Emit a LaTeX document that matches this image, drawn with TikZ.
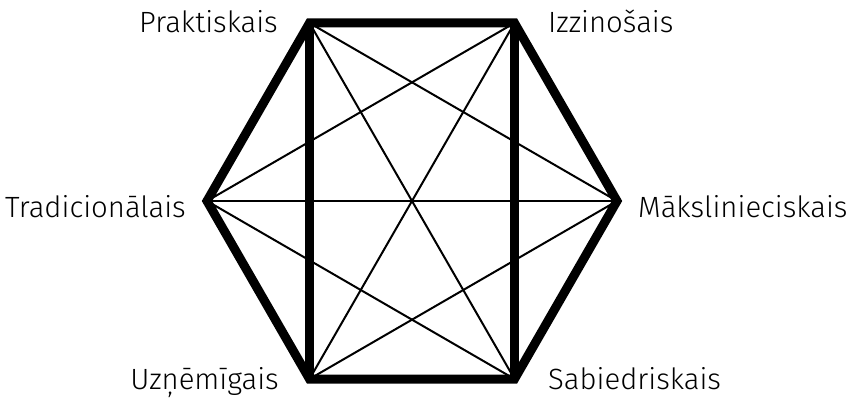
\documentclass[tikz,border=0pt]{standalone}
\usepackage{fontspec}
\setmainfont{Fira Sans Light}
\begin{document}
\begin{tikzpicture}[x=1pt,y=-1pt,
  thickedge/.style={line width=9pt,line join=miter,line cap=butt},
  thinedge/.style={line width=2pt},
  lbl/.style={font=\fontsize{29.3}{31}\selectfont,inner sep=0pt}]
\useasboundingbox (0,0) rectangle (846,398);
\coordinate (TL) at (309.5,23);
\coordinate (TR) at (514.5,23);
\coordinate (R) at (617,201);
\coordinate (BR) at (514.5,379);
\coordinate (BL) at (309.5,379);
\coordinate (L) at (207,201);
% thin connectors
\foreach \a/\b in {TL/R,TL/BR,TR/L,TR/BL,L/R,BL/R,BR/L,TL/TR}
  \draw[thinedge] (\a) -- (\b);
% thick hexagon and verticals
\draw[thickedge] (TL) -- (TR) -- (R) -- (BR) -- (BL) -- (L) -- cycle;
\draw[thickedge] (TL) -- (BL);
\draw[thickedge] (TR) -- (BR);
% labels
\node[lbl,anchor=base east] (p) at (278,33) {Praktiskais};
\node[lbl,anchor=base west] (i) at (548,33) {Izzinošais};
\node[lbl,anchor=base east] (t) at (186,218) {Tradicionālais};
\node[lbl,anchor=base west] (m) at (638,218) {Mākslinieciskais};
\node[lbl,anchor=base east] (u) at (279,389) {Uzņēmīgais};
\node[lbl,anchor=base west] (s) at (548,389) {Sabiedriskais};
\end{tikzpicture}
\end{document}
